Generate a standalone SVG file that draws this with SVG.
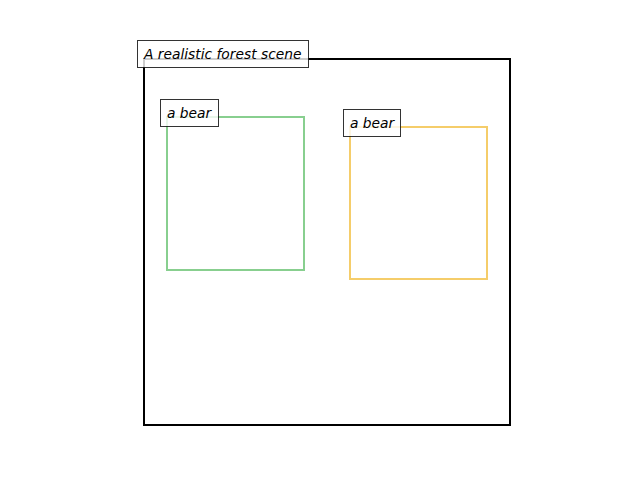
<svg xmlns="http://www.w3.org/2000/svg" width="640" height="480" viewBox="0 0 640 480">
<style>
.lbl{fill:#fff;fill-opacity:0.8;stroke:#000;stroke-opacity:0.8;stroke-width:1}
.t{font-family:"DejaVu Sans",sans-serif;font-style:italic;font-size:13.8px;fill:#000}
</style>
<rect width="640" height="480" fill="#fff"/>
<g id="scene">
<rect x="144" y="59" width="366" height="366" fill="none" stroke="#000" stroke-width="2"/>
</g>
<g id="bear1">
<rect x="167" y="117" width="137" height="153" fill="none" stroke="#88cf8f" stroke-width="2"/>
</g>
<g id="bear2">
<rect x="350" y="127" width="137" height="152" fill="none" stroke="#f5cd6a" stroke-width="2"/>
</g>
<g id="label-scene">
<rect class="lbl" x="137.5" y="40.5" width="171" height="27"/>
<text class="t" x="144" y="58.5">A realistic forest scene</text>
</g>
<g id="label-bear1">
<rect class="lbl" x="160.5" y="99.5" width="58" height="27"/>
<text class="t" x="167" y="117.5">a bear</text>
</g>
<g id="label-bear2">
<rect class="lbl" x="343.5" y="109.5" width="57" height="27"/>
<text class="t" x="350" y="127.5">a bear</text>
</g>
</svg>
